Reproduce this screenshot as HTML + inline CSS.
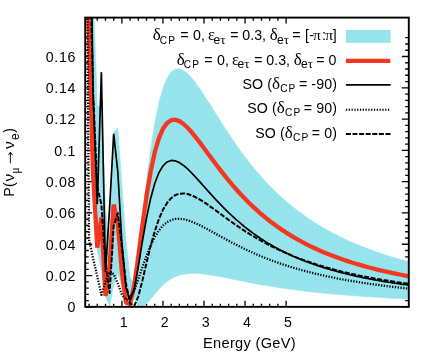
<!DOCTYPE html>
<html><head><meta charset="utf-8"><title>plot</title><style>html,body{margin:0;padding:0;background:#fff}
body{width:436px;height:354px;overflow:hidden;position:relative}
#w{position:absolute;left:0;top:0;width:436px;height:354px;will-change:transform}
svg{position:absolute;left:0;top:0;display:block}
text{font-family:"Liberation Sans",sans-serif;fill:#000}
.g{font-family:"Liberation Serif",serif}</style></head><body><div id="w">
<svg width="436" height="354" viewBox="0 0 436 354">
<defs><clipPath id="c"><rect x="85.2" y="17.6" width="323.6" height="289.25"/></clipPath></defs>
<path d="M89.06,306.85 v-3.2 M89.06,17.6 v3.2 M97.27,306.85 v-3.2 M97.27,17.6 v3.2 M105.48,306.85 v-3.2 M105.48,17.6 v3.2 M113.69,306.85 v-3.2 M113.69,17.6 v3.2 M121.90,306.85 v-6.0 M121.90,17.6 v6.0 M130.11,306.85 v-3.2 M130.11,17.6 v3.2 M138.32,306.85 v-3.2 M138.32,17.6 v3.2 M146.53,306.85 v-3.2 M146.53,17.6 v3.2 M154.74,306.85 v-3.2 M154.74,17.6 v3.2 M162.95,306.85 v-6.0 M162.95,17.6 v6.0 M171.16,306.85 v-3.2 M171.16,17.6 v3.2 M179.37,306.85 v-3.2 M179.37,17.6 v3.2 M187.58,306.85 v-3.2 M187.58,17.6 v3.2 M195.79,306.85 v-3.2 M195.79,17.6 v3.2 M204.00,306.85 v-6.0 M204.00,17.6 v6.0 M212.21,306.85 v-3.2 M212.21,17.6 v3.2 M220.42,306.85 v-3.2 M220.42,17.6 v3.2 M228.63,306.85 v-3.2 M228.63,17.6 v3.2 M236.84,306.85 v-3.2 M236.84,17.6 v3.2 M245.05,306.85 v-6.0 M245.05,17.6 v6.0 M253.26,306.85 v-3.2 M253.26,17.6 v3.2 M261.47,306.85 v-3.2 M261.47,17.6 v3.2 M269.68,306.85 v-3.2 M269.68,17.6 v3.2 M277.89,306.85 v-3.2 M277.89,17.6 v3.2 M286.10,306.85 v-6.0 M286.10,17.6 v6.0 M85.2,306.85 h7 M408.8,306.85 h-7 M85.2,300.59 h3.6 M408.8,300.59 h-3.6 M85.2,294.33 h3.6 M408.8,294.33 h-3.6 M85.2,288.07 h3.6 M408.8,288.07 h-3.6 M85.2,281.81 h3.6 M408.8,281.81 h-3.6 M85.2,275.56 h7 M408.8,275.56 h-7 M85.2,269.30 h3.6 M408.8,269.30 h-3.6 M85.2,263.04 h3.6 M408.8,263.04 h-3.6 M85.2,256.78 h3.6 M408.8,256.78 h-3.6 M85.2,250.52 h3.6 M408.8,250.52 h-3.6 M85.2,244.26 h7 M408.8,244.26 h-7 M85.2,238.00 h3.6 M408.8,238.00 h-3.6 M85.2,231.74 h3.6 M408.8,231.74 h-3.6 M85.2,225.49 h3.6 M408.8,225.49 h-3.6 M85.2,219.23 h3.6 M408.8,219.23 h-3.6 M85.2,212.97 h7 M408.8,212.97 h-7 M85.2,206.71 h3.6 M408.8,206.71 h-3.6 M85.2,200.45 h3.6 M408.8,200.45 h-3.6 M85.2,194.19 h3.6 M408.8,194.19 h-3.6 M85.2,187.93 h3.6 M408.8,187.93 h-3.6 M85.2,181.67 h7 M408.8,181.67 h-7 M85.2,175.42 h3.6 M408.8,175.42 h-3.6 M85.2,169.16 h3.6 M408.8,169.16 h-3.6 M85.2,162.90 h3.6 M408.8,162.90 h-3.6 M85.2,156.64 h3.6 M408.8,156.64 h-3.6 M85.2,150.38 h7 M408.8,150.38 h-7 M85.2,144.12 h3.6 M408.8,144.12 h-3.6 M85.2,137.86 h3.6 M408.8,137.86 h-3.6 M85.2,131.60 h3.6 M408.8,131.60 h-3.6 M85.2,125.34 h3.6 M408.8,125.34 h-3.6 M85.2,119.09 h7 M408.8,119.09 h-7 M85.2,112.83 h3.6 M408.8,112.83 h-3.6 M85.2,106.57 h3.6 M408.8,106.57 h-3.6 M85.2,100.31 h3.6 M408.8,100.31 h-3.6 M85.2,94.05 h3.6 M408.8,94.05 h-3.6 M85.2,87.79 h7 M408.8,87.79 h-7 M85.2,81.53 h3.6 M408.8,81.53 h-3.6 M85.2,75.27 h3.6 M408.8,75.27 h-3.6 M85.2,69.02 h3.6 M408.8,69.02 h-3.6 M85.2,62.76 h3.6 M408.8,62.76 h-3.6 M85.2,56.50 h7 M408.8,56.50 h-7 M85.2,50.24 h3.6 M408.8,50.24 h-3.6 M85.2,43.98 h3.6 M408.8,43.98 h-3.6 M85.2,37.72 h3.6 M408.8,37.72 h-3.6" stroke="#000" stroke-width="1.3" fill="none"/>
<g clip-path="url(#c)" fill="none" stroke-linejoin="round">
<path d="M84.95,-235.94 L89.06,-203.29 L93.16,-11.22 L97.27,105.48 L101.38,107.88 L105.48,207.88 L109.58,243.82 L113.69,132.17 L117.79,128.01 L121.90,185.33 L126.00,241.05 L130.11,277.03 L134.21,284.43 L138.32,253.23 L142.42,216.59 L146.53,180.87 L150.63,149.31 L154.74,123.38 L158.84,103.10 L162.95,88.34 L167.06,78.20 L171.16,72.04 L175.26,69.16 L179.37,68.84 L183.47,70.45 L187.58,73.62 L191.69,77.97 L195.79,83.18 L199.89,88.98 L204.00,95.13 L208.10,101.50 L212.21,108.00 L216.31,114.53 L220.42,121.02 L224.52,127.43 L228.63,133.69 L232.73,139.80 L236.84,145.73 L240.94,151.47 L245.05,157.00 L249.16,162.32 L253.26,167.42 L257.37,172.31 L261.47,177.01 L265.57,181.51 L269.68,185.82 L273.78,189.95 L277.89,193.90 L282.00,197.68 L286.10,201.30 L290.21,204.77 L294.31,208.08 L298.42,211.26 L302.52,214.30 L306.62,217.21 L310.73,219.99 L314.83,222.66 L318.94,225.22 L323.04,227.67 L327.15,230.02 L331.25,232.28 L335.36,234.44 L339.47,236.52 L343.57,238.51 L347.67,240.43 L351.78,242.27 L355.88,244.03 L359.99,245.73 L364.10,247.37 L368.20,248.94 L372.30,250.46 L376.41,251.92 L380.51,253.32 L384.62,254.68 L388.73,255.98 L392.83,257.24 L396.93,258.45 L401.04,259.62 L405.14,260.75 L409.25,261.84 L409.25,298.95 L405.14,298.76 L401.04,298.56 L396.93,298.36 L392.83,298.15 L388.73,297.93 L384.62,297.70 L380.51,297.47 L376.41,297.22 L372.30,296.97 L368.20,296.71 L364.10,296.44 L359.99,296.15 L355.88,295.86 L351.78,295.55 L347.67,295.24 L343.57,294.91 L339.47,294.56 L335.36,294.21 L331.25,293.84 L327.15,293.45 L323.04,293.05 L318.94,292.63 L314.83,292.20 L310.73,291.74 L306.62,291.27 L302.52,290.78 L298.42,290.26 L294.31,289.73 L290.21,289.17 L286.10,288.60 L282.00,288.01 L277.89,287.40 L273.78,286.77 L269.68,286.11 L265.57,285.43 L261.47,284.72 L257.37,283.99 L253.26,283.24 L249.16,282.47 L245.05,281.67 L240.94,280.86 L236.84,280.03 L232.73,279.18 L228.63,278.33 L224.52,277.51 L220.42,276.73 L216.31,275.99 L212.21,275.28 L208.10,274.64 L204.00,274.09 L199.89,273.64 L195.79,273.34 L191.69,273.37 L187.58,273.65 L183.47,274.23 L179.37,275.19 L175.26,276.71 L171.16,278.86 L167.06,281.57 L162.95,285.10 L158.84,289.28 L154.74,294.11 L150.63,299.11 L146.53,303.70 L142.42,306.60 L138.32,305.66 L134.21,297.80 L130.11,304.32 L126.00,304.22 L121.90,287.51 L117.79,272.53 L113.69,284.67 L109.58,306.49 L105.48,296.39 L101.38,270.76 L97.27,250.01 L93.16,181.47 L89.06,50.78 L84.95,-101.27Z" fill="#95e4ed" stroke="#95e4ed" stroke-width="0.6"/>
<clipPath id="b"><path d="M84.95,-235.94 L89.06,-203.29 L93.16,-11.22 L97.27,105.48 L101.38,107.88 L105.48,207.88 L109.58,243.82 L113.69,132.17 L117.79,128.01 L121.90,185.33 L126.00,241.05 L130.11,277.03 L134.21,284.43 L138.32,253.23 L142.42,216.59 L146.53,180.87 L150.63,149.31 L154.74,123.38 L158.84,103.10 L162.95,88.34 L167.06,78.20 L171.16,72.04 L175.26,69.16 L179.37,68.84 L183.47,70.45 L187.58,73.62 L191.69,77.97 L195.79,83.18 L199.89,88.98 L204.00,95.13 L208.10,101.50 L212.21,108.00 L216.31,114.53 L220.42,121.02 L224.52,127.43 L228.63,133.69 L232.73,139.80 L236.84,145.73 L240.94,151.47 L245.05,157.00 L249.16,162.32 L253.26,167.42 L257.37,172.31 L261.47,177.01 L265.57,181.51 L269.68,185.82 L273.78,189.95 L277.89,193.90 L282.00,197.68 L286.10,201.30 L290.21,204.77 L294.31,208.08 L298.42,211.26 L302.52,214.30 L306.62,217.21 L310.73,219.99 L314.83,222.66 L318.94,225.22 L323.04,227.67 L327.15,230.02 L331.25,232.28 L335.36,234.44 L339.47,236.52 L343.57,238.51 L347.67,240.43 L351.78,242.27 L355.88,244.03 L359.99,245.73 L364.10,247.37 L368.20,248.94 L372.30,250.46 L376.41,251.92 L380.51,253.32 L384.62,254.68 L388.73,255.98 L392.83,257.24 L396.93,258.45 L401.04,259.62 L405.14,260.75 L409.25,261.84 L409.25,298.95 L405.14,298.76 L401.04,298.56 L396.93,298.36 L392.83,298.15 L388.73,297.93 L384.62,297.70 L380.51,297.47 L376.41,297.22 L372.30,296.97 L368.20,296.71 L364.10,296.44 L359.99,296.15 L355.88,295.86 L351.78,295.55 L347.67,295.24 L343.57,294.91 L339.47,294.56 L335.36,294.21 L331.25,293.84 L327.15,293.45 L323.04,293.05 L318.94,292.63 L314.83,292.20 L310.73,291.74 L306.62,291.27 L302.52,290.78 L298.42,290.26 L294.31,289.73 L290.21,289.17 L286.10,288.60 L282.00,288.01 L277.89,287.40 L273.78,286.77 L269.68,286.11 L265.57,285.43 L261.47,284.72 L257.37,283.99 L253.26,283.24 L249.16,282.47 L245.05,281.67 L240.94,280.86 L236.84,280.03 L232.73,279.18 L228.63,278.33 L224.52,277.51 L220.42,276.73 L216.31,275.99 L212.21,275.28 L208.10,274.64 L204.00,274.09 L199.89,273.64 L195.79,273.34 L191.69,273.37 L187.58,273.65 L183.47,274.23 L179.37,275.19 L175.26,276.71 L171.16,278.86 L167.06,281.57 L162.95,285.10 L158.84,289.28 L154.74,294.11 L150.63,299.11 L146.53,303.70 L142.42,306.60 L138.32,305.66 L134.21,297.80 L130.11,304.32 L126.00,304.22 L121.90,287.51 L117.79,272.53 L113.69,284.67 L109.58,306.49 L105.48,296.39 L101.38,270.76 L97.27,250.01 L93.16,181.47 L89.06,50.78 L84.95,-101.27Z"/></clipPath><path d="M89.06,17.6 V306.85 M93.16,17.6 V306.85 M97.27,17.6 V306.85 M101.38,17.6 V306.85 M105.48,17.6 V306.85 M109.58,17.6 V306.85 M113.69,17.6 V306.85 M117.79,17.6 V306.85 M121.90,17.6 V306.85 M126.00,17.6 V306.85 M130.11,17.6 V306.85 M134.21,17.6 V306.85 M138.32,17.6 V306.85 M142.42,17.6 V306.85 M146.53,17.6 V306.85 M150.63,17.6 V306.85 M154.74,17.6 V306.85 M158.84,17.6 V306.85 M162.95,17.6 V306.85 M167.06,17.6 V306.85 M171.16,17.6 V306.85 M175.26,17.6 V306.85 M179.37,17.6 V306.85 M183.47,17.6 V306.85 M187.58,17.6 V306.85 M191.69,17.6 V306.85 M195.79,17.6 V306.85 M199.89,17.6 V306.85 M204.00,17.6 V306.85 M208.10,17.6 V306.85 M212.21,17.6 V306.85 M216.31,17.6 V306.85 M220.42,17.6 V306.85 M224.52,17.6 V306.85 M228.63,17.6 V306.85 M232.73,17.6 V306.85 M236.84,17.6 V306.85 M240.94,17.6 V306.85 M245.05,17.6 V306.85 M249.16,17.6 V306.85 M253.26,17.6 V306.85 M257.37,17.6 V306.85 M261.47,17.6 V306.85 M265.57,17.6 V306.85 M269.68,17.6 V306.85 M273.78,17.6 V306.85 M277.89,17.6 V306.85 M282.00,17.6 V306.85 M286.10,17.6 V306.85 M290.21,17.6 V306.85 M294.31,17.6 V306.85 M298.42,17.6 V306.85 M302.52,17.6 V306.85 M306.62,17.6 V306.85 M310.73,17.6 V306.85 M314.83,17.6 V306.85 M318.94,17.6 V306.85 M323.04,17.6 V306.85 M327.15,17.6 V306.85 M331.25,17.6 V306.85 M335.36,17.6 V306.85 M339.47,17.6 V306.85 M343.57,17.6 V306.85 M347.67,17.6 V306.85 M351.78,17.6 V306.85 M355.88,17.6 V306.85 M359.99,17.6 V306.85 M364.10,17.6 V306.85 M368.20,17.6 V306.85 M372.30,17.6 V306.85 M376.41,17.6 V306.85 M380.51,17.6 V306.85 M384.62,17.6 V306.85 M388.73,17.6 V306.85 M392.83,17.6 V306.85 M396.93,17.6 V306.85 M401.04,17.6 V306.85 M405.14,17.6 V306.85" clip-path="url(#b)" stroke="#fff" stroke-opacity="0.1" stroke-width="0.6"/>
<path d="M84.95,-101.56 L89.06,36.47 L93.16,175.59 L97.27,247.65 L101.38,217.46 L105.48,295.99 L109.58,266.39 L113.69,204.57 L117.79,223.81 L121.90,272.19 L126.00,302.43 L130.11,304.32 L134.21,285.46 L138.32,256.35 L142.42,224.96 L146.53,195.98 L150.63,171.60 L154.74,152.47 L158.84,138.41 L162.95,128.81 L167.06,122.97 L171.16,120.15 L175.26,119.73 L179.37,121.15 L183.47,123.95 L187.58,127.77 L191.69,132.31 L195.79,137.33 L199.89,142.66 L204.00,148.17 L208.10,153.74 L212.21,159.29 L216.31,164.78 L220.42,170.15 L224.52,175.37 L228.63,180.43 L232.73,185.32 L236.84,190.01 L240.94,194.52 L245.05,198.83 L249.16,202.96 L253.26,206.90 L257.37,210.67 L261.47,214.26 L265.57,217.69 L269.68,220.96 L273.78,224.07 L277.89,227.04 L282.00,229.87 L286.10,232.57 L290.21,235.14 L294.31,237.60 L298.42,239.94 L302.52,242.18 L306.62,244.31 L310.73,246.35 L314.83,248.30 L318.94,250.16 L323.04,251.94 L327.15,253.64 L331.25,255.27 L335.36,256.83 L339.47,258.33 L343.57,259.76 L347.67,261.13 L351.78,262.45 L355.88,263.71 L359.99,264.92 L364.10,266.09 L368.20,267.21 L372.30,268.28 L376.41,269.32 L380.51,270.31 L384.62,271.27 L388.73,272.19 L392.83,273.07 L396.93,273.93 L401.04,274.75 L405.14,275.55 L409.25,276.31" stroke="#f4381f" stroke-width="4.3" stroke-linejoin="bevel"/>
<path d="M84.95,-416.95 L89.06,-190.98 L93.16,96.76 L97.27,204.13 L101.38,72.15 L105.48,271.85 L109.58,208.41 L113.69,133.79 L117.79,171.57 L121.90,242.71 L126.00,288.27 L130.11,300.13 L134.21,288.85 L138.32,266.41 L142.42,241.19 L146.53,217.84 L150.63,198.42 L154.74,183.49 L158.84,172.82 L162.95,165.85 L167.06,161.94 L171.16,160.45 L175.26,160.83 L179.37,162.61 L183.47,165.43 L187.58,168.97 L191.69,173.01 L195.79,177.37 L199.89,181.90 L204.00,186.51 L208.10,191.12 L212.21,195.67 L216.31,200.12 L220.42,204.44 L224.52,208.62 L228.63,212.64 L232.73,216.50 L236.84,220.20 L240.94,223.72 L245.05,227.08 L249.16,230.29 L253.26,233.34 L257.37,236.24 L261.47,239.00 L265.57,241.62 L269.68,244.11 L273.78,246.48 L277.89,248.73 L282.00,250.88 L286.10,252.91 L290.21,254.85 L294.31,256.70 L298.42,258.45 L302.52,260.13 L306.62,261.72 L310.73,263.24 L314.83,264.69 L318.94,266.07 L323.04,267.39 L327.15,268.65 L331.25,269.86 L335.36,271.01 L339.47,272.11 L343.57,273.17 L347.67,274.18 L351.78,275.14 L355.88,276.07 L359.99,276.96 L364.10,277.81 L368.20,278.63 L372.30,279.41 L376.41,280.16 L380.51,280.89 L384.62,281.58 L388.73,282.25 L392.83,282.90 L396.93,283.52 L401.04,284.11 L405.14,284.69 L409.25,285.24" stroke="#000" stroke-width="1.7" stroke-linejoin="bevel"/>
<path d="M84.95,-331.39 L89.06,240.04 L93.16,258.50 L97.27,276.65 L101.38,294.80 L105.48,281.77 L109.58,271.80 L113.69,274.04 L117.79,283.65 L121.90,294.49 L126.00,299.92 L130.11,297.99 L134.21,290.22 L138.32,279.18 L142.42,267.13 L146.53,255.60 L150.63,245.44 L154.74,237.04 L158.84,230.45 L162.95,225.55 L167.06,222.14 L171.16,220.02 L175.26,218.95 L179.37,218.74 L183.47,219.21 L187.58,220.22 L191.69,221.62 L195.79,223.34 L199.89,225.27 L204.00,227.36 L208.10,229.55 L212.21,231.80 L216.31,234.07 L220.42,236.34 L224.52,238.59 L228.63,240.81 L232.73,242.98 L236.84,245.10 L240.94,247.16 L245.05,249.15 L249.16,251.08 L253.26,252.93 L257.37,254.72 L261.47,256.45 L265.57,258.11 L269.68,259.70 L273.78,261.23 L277.89,262.70 L282.00,264.11 L286.10,265.46 L290.21,266.76 L294.31,268.00 L298.42,269.19 L302.52,270.34 L306.62,271.44 L310.73,272.50 L314.83,273.51 L318.94,274.48 L323.04,275.41 L327.15,276.31 L331.25,277.17 L335.36,278.00 L339.47,278.80 L343.57,279.57 L347.67,280.30 L351.78,281.01 L355.88,281.69 L359.99,282.35 L364.10,282.99 L368.20,283.60 L372.30,284.18 L376.41,284.75 L380.51,285.30 L384.62,285.83 L388.73,286.34 L392.83,286.83 L396.93,287.30 L401.04,287.76 L405.14,288.21 L409.25,288.64" stroke="#000" stroke-width="2.3" stroke-dasharray="1.3 1.5"/>
<path d="M84.95,-176.54 L89.06,-71.76 L93.16,92.93 L97.27,187.28 L101.38,204.24 L105.48,263.25 L109.58,293.11 L113.69,225.58 L117.79,213.32 L121.90,246.90 L126.00,283.48 L130.11,303.54 L134.21,305.99 L138.32,296.35 L142.42,280.54 L146.53,262.90 L150.63,246.04 L154.74,231.32 L158.84,219.24 L162.95,209.84 L167.06,202.91 L171.16,198.13 L175.26,195.16 L179.37,193.68 L183.47,193.38 L187.58,194.01 L191.69,195.36 L195.79,197.26 L199.89,199.56 L204.00,202.16 L208.10,204.95 L212.21,207.87 L216.31,210.86 L220.42,213.88 L224.52,216.89 L228.63,219.86 L232.73,222.78 L236.84,225.64 L240.94,228.42 L245.05,231.11 L249.16,233.72 L253.26,236.23 L257.37,238.66 L261.47,240.99 L265.57,243.23 L269.68,245.38 L273.78,247.44 L277.89,249.42 L282.00,251.32 L286.10,253.14 L290.21,254.88 L294.31,256.55 L298.42,258.15 L302.52,259.68 L306.62,261.15 L310.73,262.56 L314.83,263.91 L318.94,265.21 L323.04,266.45 L327.15,267.64 L331.25,268.79 L335.36,269.89 L339.47,270.94 L343.57,271.96 L347.67,272.93 L351.78,273.86 L355.88,274.76 L359.99,275.63 L364.10,276.46 L368.20,277.26 L372.30,278.04 L376.41,278.78 L380.51,279.50 L384.62,280.19 L388.73,280.85 L392.83,281.50 L396.93,282.12 L401.04,282.71 L405.14,283.29 L409.25,283.85" stroke="#000" stroke-width="2" stroke-dasharray="5 1.6"/>
</g>
<rect x="85.2" y="17.6" width="323.6" height="289.25" fill="none" stroke="#000" stroke-width="1.9"/>
<text x="76.2" y="312.15000000000003" font-size="14.2" text-anchor="end" letter-spacing="0.7">0</text>
<text x="76.2" y="280.85600000000005" font-size="14.2" text-anchor="end" letter-spacing="0.7">0.02</text>
<text x="76.2" y="249.56200000000004" font-size="14.2" text-anchor="end" letter-spacing="0.7">0.04</text>
<text x="76.2" y="218.26800000000003" font-size="14.2" text-anchor="end" letter-spacing="0.7">0.06</text>
<text x="76.2" y="186.97400000000005" font-size="14.2" text-anchor="end" letter-spacing="0.7">0.08</text>
<text x="76.2" y="155.68" font-size="14.2" text-anchor="end" letter-spacing="0.7">0.1</text>
<text x="76.2" y="124.38600000000001" font-size="14.2" text-anchor="end" letter-spacing="0.7">0.12</text>
<text x="76.2" y="93.092" font-size="14.2" text-anchor="end" letter-spacing="0.7">0.14</text>
<text x="76.2" y="61.798000000000016" font-size="14.2" text-anchor="end" letter-spacing="0.7">0.16</text>
<text x="123.69999999999999" y="327.2" font-size="14.2" text-anchor="middle" >1</text>
<text x="164.75" y="327.2" font-size="14.2" text-anchor="middle" >2</text>
<text x="205.8" y="327.2" font-size="14.2" text-anchor="middle" >3</text>
<text x="246.85" y="327.2" font-size="14.2" text-anchor="middle" >4</text>
<text x="287.90000000000003" y="327.2" font-size="14.2" text-anchor="middle" >5</text>
<text x="249.5" y="348.3" font-size="14.6" text-anchor="middle" letter-spacing="0.3">Energy (GeV)</text>
<g transform="translate(14.0,195.7) rotate(-90)"><text x="-1.00" y="0.00" font-size="14.2" >P</text><text x="8.60" y="0.00" font-size="14.2" >(</text><text x="14.30" y="0.00" font-size="15.5" >ν</text><text x="22.00" y="4.60" font-size="12" class="g" >μ</text><path d="M32.3,-3.6 H43.4 M40.6,-5.6 L43.6,-3.6 L40.6,-1.6" fill="none" stroke="#000" stroke-width="0.9"/><text x="46.80" y="0.00" font-size="15.5" >ν</text><text x="55.60" y="4.60" font-size="12" >e</text><text x="63.00" y="0.00" font-size="14.2" >)</text></g>
<text x="152.70" y="40.30" font-size="17" class="g" >δ</text><text x="159.70" y="43.50" font-size="10.2" letter-spacing="1.1">CP</text><text x="180.20" y="40.30" font-size="14.2" letter-spacing="0.25">= 0,</text><text x="208.00" y="40.30" font-size="16.5" class="g" >ε</text><text x="213.40" y="43.50" font-size="12" >e</text><text x="220.20" y="43.50" font-size="13" class="g" >τ</text><text x="230.20" y="40.30" font-size="14.2" >=</text><text x="242.30" y="40.30" font-size="14.2" >0.3,</text><text x="269.80" y="40.30" font-size="17" class="g" >δ</text><text x="277.00" y="43.50" font-size="12" >e</text><text x="283.80" y="43.50" font-size="13" class="g" >τ</text><text x="292.20" y="40.30" font-size="14.2" >=</text><text x="304.90" y="40.30" font-size="14.2" >[</text><text x="309.20" y="40.30" font-size="14.2" >-</text><text x="313.10" y="40.30" font-size="15.5" class="g" >π</text><text x="321.90" y="40.30" font-size="14.2" >:</text><text x="325.20" y="40.30" font-size="15.5" class="g" >π</text><text x="332.70" y="40.30" font-size="14.2" >]</text>
<text x="176.70" y="64.60" font-size="17" class="g" >δ</text><text x="183.70" y="67.80" font-size="10.2" letter-spacing="1.1">CP</text><text x="204.20" y="64.60" font-size="14.2" letter-spacing="0.25">= 0,</text><text x="232.00" y="64.60" font-size="16.5" class="g" >ε</text><text x="237.40" y="67.80" font-size="12" >e</text><text x="244.20" y="67.80" font-size="13" class="g" >τ</text><text x="254.20" y="64.60" font-size="14.2" >=</text><text x="266.30" y="64.60" font-size="14.2" >0.3,</text><text x="293.80" y="64.60" font-size="17" class="g" >δ</text><text x="301.00" y="67.80" font-size="12" >e</text><text x="307.80" y="67.80" font-size="13" class="g" >τ</text><text x="316.20" y="64.60" font-size="14.2" >=</text><text x="328.60" y="64.60" font-size="14.2" >0</text>
<text x="337.0" y="88.9" font-size="14.2" text-anchor="end" letter-spacing="0.1">SO (<tspan class="g" font-size="17">δ</tspan><tspan dy="3.2" font-size="10.2" letter-spacing="1.1">CP</tspan><tspan dy="-3.2" dx="-1.6" font-size="14.2">&#8203;</tspan> = -90)</text>
<text x="337.0" y="113.2" font-size="14.2" text-anchor="end" letter-spacing="0.1">SO (<tspan class="g" font-size="17">δ</tspan><tspan dy="3.2" font-size="10.2" letter-spacing="1.1">CP</tspan><tspan dy="-3.2" dx="-1.6" font-size="14.2">&#8203;</tspan> = 90)</text>
<text x="337.0" y="137.6" font-size="14.2" text-anchor="end" letter-spacing="0.1">SO (<tspan class="g" font-size="17">δ</tspan><tspan dy="3.2" font-size="10.2" letter-spacing="1.1">CP</tspan><tspan dy="-3.2" dx="-1.6" font-size="14.2">&#8203;</tspan> = 0)</text>
<rect x="345.9" y="29.9" width="44.7" height="12.9" fill="#95e4ed"/>
<path d="M345.9,60.8 H390.3" stroke="#f4381f" stroke-width="4.2"/>
<path d="M345.9,84.9 H390.6" stroke="#000" stroke-width="1.7"/>
<path d="M345.9,109.8 H390.6" stroke="#000" stroke-width="2" stroke-dasharray="1.3 1.5"/>
<path d="M345.9,134.1 H390.6" stroke="#000" stroke-width="2" stroke-dasharray="5 1.6"/>
</svg>
</div></body></html>
